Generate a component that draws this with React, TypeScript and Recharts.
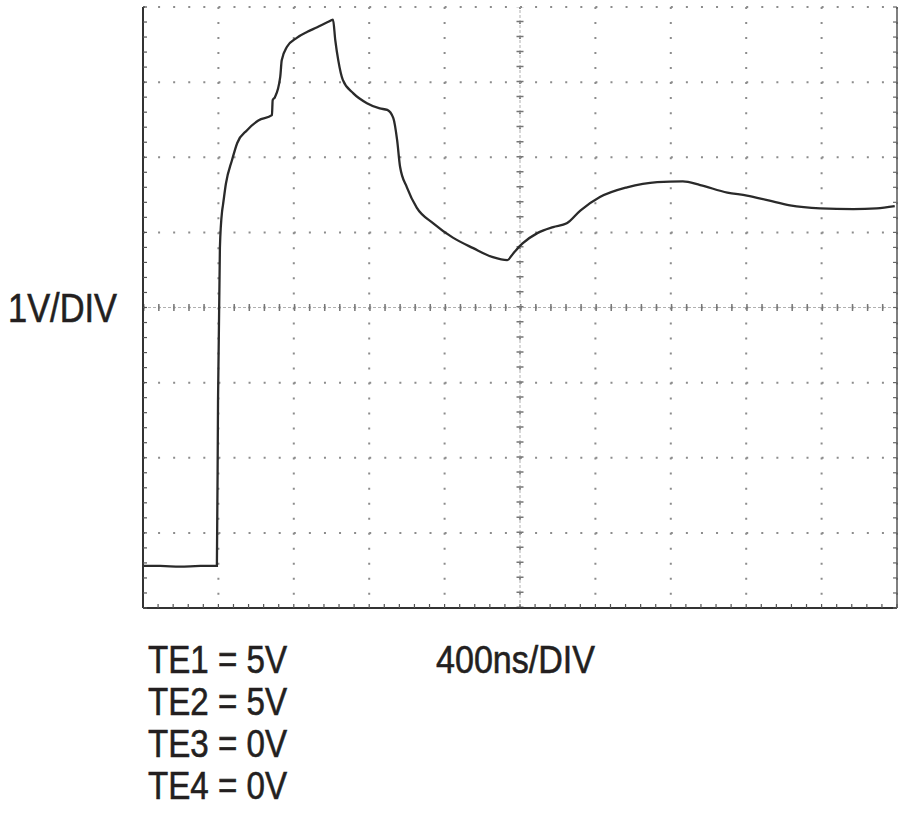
import React from 'react'
import { LineChart, Line, XAxis, YAxis, CartesianGrid, ReferenceLine } from 'recharts'

// time in divisions (400ns/DIV), volts (1V/DIV)
const timeDiv = [
  0, 0.23, 0.49, 0.76, 0.98, 0.995, 1.02, 1.05, 1.06, 1.1, 1.18, 1.25, 1.38, 1.53, 1.71, 1.72, 1.75,
  1.82, 1.84, 1.91, 2.04, 2.18, 2.31, 2.45, 2.52, 2.55, 2.59, 2.65, 2.79, 2.97, 3.14, 3.24, 3.32,
  3.37, 3.41, 3.5, 3.63, 3.85, 4.11, 4.38, 4.64, 4.83, 4.91, 5.03, 5.23, 5.44, 5.62, 5.8, 6.06,
  6.42, 6.82, 7.16, 7.39, 7.75, 8.01, 8.28, 8.58, 8.98, 9.42, 9.73, 9.97,
]
const volts = [
  -3.44, -3.44, -3.45, -3.44, -3.44, -1.24, 0.8, 1.29, 1.36, 1.65, 1.96, 2.19, 2.36, 2.49, 2.56, 2.76, 2.8,
  3.07, 3.29, 3.47, 3.59, 3.67, 3.73, 3.8, 3.83, 3.56, 3.29, 3.03, 2.85, 2.72, 2.65, 2.63, 2.52,
  2.23, 1.87, 1.6, 1.33, 1.12, 0.93, 0.79, 0.67, 0.63, 0.72, 0.85, 0.99, 1.07, 1.12, 1.29, 1.47,
  1.6, 1.67, 1.68, 1.63, 1.53, 1.49, 1.43, 1.36, 1.32, 1.31, 1.32, 1.35,
]

const majorX = [0, 1, 2, 3, 4, 5, 6, 7, 8, 9, 10]
const majorY = [-4, -3, -2, -1, 0, 1, 2, 3, 4]
const minorX = Array.from({ length: 51 }, (_, i) => Math.round(i * 2) / 10)
const minorY = Array.from({ length: 41 }, (_, i) => Math.round(-40 + i * 2) / 10)

const settings = ['TE1 = 5V', 'TE2 = 5V', 'TE3 = 0V', 'TE4 = 0V']

const data = timeDiv.map((t, i) => ({ t, v: volts[i] }))

const font = '"Liberation Sans", Arial, sans-serif'
const ink = '#231f20'
const blank = () => ''

export default function App() {
  return (
    <div style={{ position: 'absolute', left: 0, top: 0, width: 900, height: 815, background: '#fff' }}>
      <svg width={900} height={815} style={{ position: 'absolute', left: 0, top: 0 }}>
        <g fontFamily={font} fill={ink} stroke={ink} strokeWidth={0.6}>
          <text x={8} y={322} fontSize={40} textLength={109} lengthAdjust="spacingAndGlyphs">1V/DIV</text>
          <text x={436} y={673} fontSize={39} textLength={159} lengthAdjust="spacingAndGlyphs">400ns/DIV</text>
          {settings.map((s, i) => (
            <text key={s} x={148} y={673 + i * 42} fontSize={39} textLength={139}
              lengthAdjust="spacingAndGlyphs">{s}</text>
          ))}
        </g>
      </svg>
      <div style={{ position: 'absolute', left: 0, top: 0 }}>
        <LineChart width={900} height={620} data={data} margin={{ top: 7, right: 3, bottom: 12, left: 143 }}>
          <XAxis dataKey="t" type="number" domain={[0, 10]} ticks={majorX} hide />
          <YAxis type="number" domain={[-4, 4]} ticks={majorY} hide />
          <XAxis xAxisId="m" dataKey="t" type="number" domain={[0, 10]} ticks={minorX} interval={0}
            allowDataOverflow mirror height={1} tickSize={4} tickFormatter={blank}
            axisLine={{ stroke: '#333', strokeWidth: 2 }} tickLine={{ stroke: '#555', strokeWidth: 1.2 }} />
          <YAxis yAxisId="l" dataKey="v" type="number" domain={[-4, 4]} ticks={minorY} interval={0}
            allowDataOverflow mirror width={1} tickSize={4} tickFormatter={blank}
            axisLine={{ stroke: '#333', strokeWidth: 2 }} tickLine={{ stroke: '#555', strokeWidth: 1.2 }} />
          <YAxis yAxisId="r" dataKey="v" orientation="right" type="number" domain={[-4, 4]} ticks={minorY}
            interval={0} allowDataOverflow mirror width={1} tickSize={4} tickFormatter={blank}
            axisLine={{ stroke: '#555', strokeWidth: 1.5 }} tickLine={{ stroke: '#666', strokeWidth: 1.2 }} />
          <CartesianGrid horizontal={false} stroke="#8c8c8c" strokeWidth={2} strokeDasharray="2 13.02" />
          <CartesianGrid vertical={false} stroke="#8c8c8c" strokeWidth={2} strokeDasharray="2 13.08" />
          <ReferenceLine y={0} stroke="#b0b0b0" strokeWidth={1} strokeDasharray="3 2" />
          <ReferenceLine y={0} stroke="#777" strokeWidth={7} strokeDasharray="1.5 13.58" />
          <ReferenceLine x={5} stroke="#b0b0b0" strokeWidth={1} strokeDasharray="3 2" />
          <ReferenceLine x={5} stroke="#777" strokeWidth={7} strokeDasharray="1.5 13.52" />
          <Line dataKey="v" type="monotone" stroke="#2a2a2a" strokeWidth={2.3} dot={false}
            isAnimationActive={false} />
        </LineChart>
      </div>
    </div>
  )
}
